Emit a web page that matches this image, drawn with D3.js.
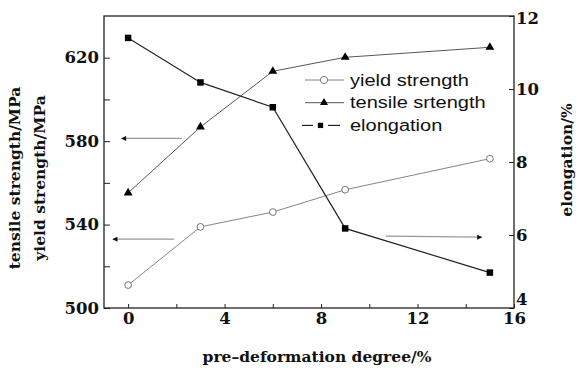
<!DOCTYPE html>
<html>
<head>
<meta charset="utf-8">
<style>
body { margin: 0; background: #fff; }
svg { display: block; }
.ticks text { font-family: "DejaVu Serif"; font-weight: bold; font-size: 16.5px; fill: #111; }
.title { font: bold 15.5px "DejaVu Serif"; fill: #111; }
.legend text { font: 16px "Liberation Sans"; fill: #111; }
</style>
</head>
<body>
<svg id="chart" width="579" height="371"></svg>
<script src="https://cdn.jsdelivr.net/npm/d3@7/dist/d3.min.js"></script>
<script>
// pre-deformation degree (%)
var degree = [0, 3, 6, 9, 15];
// strengths (MPa), left axis
var yieldStrength = [511, 538.9, 546, 556.7, 571.6];
var tensileStrength = [555.2, 586.8, 613.5, 620.2, 625];
// elongation (%), right axis
var elongation = [11.4, 10.18, 9.5, 6.18, 4.97];

var xTicks = [0, 2, 4, 6, 8, 10, 12, 14, 16];
var leftTicks = [500, 520, 540, 560, 580, 600, 620];
var leftLabels = [500, 540, 580, 620];
var rightTicks = [4, 6, 8, 10, 12];

var seriesNames = ["yield strength", "tensile srtength", "elongation"];

// arrows that tell which axis a curve belongs to: [x0, x1, y0, y1, axis]
var arrows = [
  [2.22, -0.27, 581.3, 581.3, "left"],
  [1.9, -0.63, 533, 533, "left"],
  [10.69, 14.66, 5.97, 5.94, "right"]
];

var svg = d3.select("#chart"),
    plotLeft = 104, plotRight = 514, plotTop = 16, plotBottom = 308;

var x = d3.scaleLinear().domain([-1, 16]).range([plotLeft, plotRight]);
var yL = d3.scaleLinear().domain([500, 640]).range([plotBottom, plotTop]);
var yR = d3.scaleLinear().domain([4, 12]).range([plotBottom, plotTop]);

svg.append("defs").append("marker")
    .attr("id", "head")
    .attr("viewBox", "0 0 10 10")
    .attr("refX", 9).attr("refY", 5)
    .attr("markerWidth", 8).attr("markerHeight", 5)
    .attr("markerUnits", "userSpaceOnUse")
    .attr("orient", "auto")
  .append("path")
    .attr("d", "M0,0L10,5L0,10Z")
    .attr("fill", "#111");

// axes with inward ticks
var gx = svg.append("g").attr("class", "ticks")
    .attr("transform", "translate(0," + plotBottom + ")")
    .call(d3.axisBottom(x).tickValues(xTicks).tickSize(-4).tickPadding(4)
      .tickFormat(function(d) { return d % 4 ? "" : d; }));

var gl = svg.append("g").attr("class", "ticks")
    .attr("transform", "translate(" + plotLeft + ",0)")
    .call(d3.axisLeft(yL).tickValues(leftTicks).tickSize(-6).tickPadding(5)
      .tickFormat(function(d) { return leftLabels.indexOf(d) < 0 ? "" : d; }));

var gr = svg.append("g").attr("class", "ticks")
    .attr("transform", "translate(" + plotRight + ",0)")
    .call(d3.axisRight(yR).tickValues(rightTicks).tickSize(-5).tickPadding(2));

svg.selectAll(".ticks").attr("font-family", null).attr("font-size", null);
svg.selectAll(".ticks .domain").remove();
svg.selectAll(".ticks line").attr("stroke", "#222").attr("stroke-width", 1);
gr.selectAll(".tick text").filter(function(d) { return d === 4; }).attr("dy", "-0.22em");
gr.selectAll(".tick text").filter(function(d) { return d === 12; }).attr("dy", "0.45em");

svg.append("rect")
    .attr("x", plotLeft).attr("y", plotTop)
    .attr("width", plotRight - plotLeft).attr("height", plotBottom - plotTop)
    .attr("fill", "none").attr("stroke", "#222").attr("stroke-width", 1.3);

// axis titles
svg.append("text").attr("class", "title")
    .attr("transform", "translate(20,178)rotate(-90)")
    .attr("text-anchor", "middle").text("tensile strength/MPa");
svg.append("text").attr("class", "title")
    .attr("transform", "translate(45,178)rotate(-90)")
    .attr("text-anchor", "middle").text("yield strength/MPa");
svg.append("text").attr("class", "title")
    .attr("transform", "translate(572,160)rotate(-90)")
    .attr("text-anchor", "middle").text("elongation/%");
svg.append("text").attr("class", "title")
    .attr("x", 317).attr("y", 362)
    .attr("text-anchor", "middle").text("pre\u2013deformation degree/%");

// arrows
svg.selectAll(".arrow")
  .data(arrows)
  .enter().append("line")
    .attr("class", "arrow")
    .attr("x1", function(d) { return x(d[0]); })
    .attr("x2", function(d) { return x(d[1]); })
    .attr("y1", function(d) { return (d[4] == "left" ? yL : yR)(d[2]); })
    .attr("y2", function(d) { return (d[4] == "left" ? yL : yR)(d[3]); })
    .attr("stroke", "#999").attr("stroke-width", 1.3)
    .attr("marker-end", "url(#head)");

// curves
var series = [
  {name: seriesNames[0], values: yieldStrength, y: yL, symbol: d3.symbolCircle, size: 36, fill: "#fff", stroke: "#777", width: 0.9},
  {name: seriesNames[1], values: tensileStrength, y: yL, symbol: d3.symbolTriangle, size: 34, fill: "#000", stroke: "#444", width: 0.9},
  {name: seriesNames[2], values: elongation, y: yR, symbol: d3.symbolSquare, size: 42, fill: "#000", stroke: "#222", width: 1.2}
];

series.forEach(function(s) {
  var line = d3.line()
      .x(function(d, i) { return x(degree[i]); })
      .y(function(d) { return s.y(d); });

  svg.append("path")
      .datum(s.values)
      .attr("d", line)
      .attr("fill", "none")
      .attr("stroke", s.stroke)
      .attr("stroke-width", s.width);

  svg.selectAll(null)
    .data(s.values)
    .enter().append("path")
      .attr("transform", function(d, i) { return "translate(" + x(degree[i]) + "," + s.y(d) + ")"; })
      .attr("d", d3.symbol().type(s.symbol).size(s.size))
      .attr("fill", s.fill)
      .attr("stroke", s.symbol === d3.symbolCircle ? "#666" : "none")
      .attr("stroke-width", 0.9);
});

// legend
var legend = svg.append("g").attr("class", "legend")
    .attr("transform", "translate(305,80)");

var item = legend.selectAll("g")
  .data(series)
  .enter().append("g")
    .attr("transform", function(d, i) { return "translate(0," + i * 22.7 + ")"; });

item.each(function(d, i) {
  var g = d3.select(this);
  if (i == 2) {
    g.append("line").attr("x1", -3).attr("x2", 8).attr("stroke", d.stroke).attr("stroke-width", 1.2);
    g.append("line").attr("x1", 23).attr("x2", 35).attr("stroke", d.stroke).attr("stroke-width", 1.2);
  } else {
    g.append("line").attr("x1", 0).attr("x2", 39).attr("stroke", d.stroke).attr("stroke-width", d.width);
  }
  g.append("path")
    .attr("transform", "translate(" + (i == 2 ? 15.5 : 19) + ",0)")
    .attr("d", d3.symbol().type(d.symbol).size(i == 0 ? 40 : 28))
    .attr("fill", d.fill)
    .attr("stroke", i == 0 ? "#666" : "none")
    .attr("stroke-width", 0.9);
  g.append("text")
    .attr("transform", "translate(45,5.5)scale(1.25,1)")
    .text(d.name);
});
</script>
</body>
</html>
